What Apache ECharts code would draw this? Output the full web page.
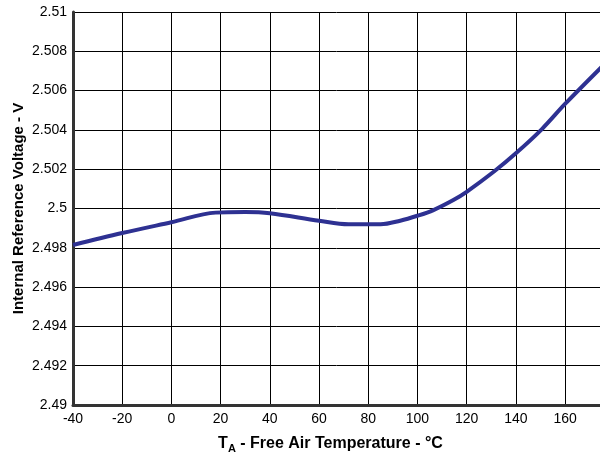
<!DOCTYPE html>
<html>
<head>
<meta charset="utf-8">
<script src="https://cdn.jsdelivr.net/npm/echarts@6/dist/echarts.min.js"></script>
<style>html,body{margin:0;padding:0;background:#fff}#c{width:600px;height:454px}</style>
</head>
<body>
<div id="c"></div>
<script>
const temps = [-40, -20, 0, 18, 30, 40, 60, 72, 85, 93, 100, 106.5, 114.6, 120, 131, 140, 150.5, 160, 175];
const volts = [2.49814, 2.49875, 2.4993, 2.49979, 2.49982, 2.49976, 2.49938, 2.4992, 2.4992, 2.49938, 2.49963, 2.49992, 2.50043, 2.50085, 2.50187, 2.50281, 2.50403, 2.50532, 2.50722];
const xTicks = [-40, -20, 0, 20, 40, 60, 80, 100, 120, 140, 160];
const yTicks = [2.49, 2.492, 2.494, 2.496, 2.498, 2.5, 2.502, 2.504, 2.506, 2.508, 2.51];

const chart = echarts.init(document.getElementById('c'));
const font = 'Liberation Sans, Arial, sans-serif';
chart.setOption({
  animation: false,
  grid: {left: 73, right: 0, top: 12, bottom: 49, outerBoundsMode: 'none', containLabel: false},
  xAxis: {
    type: 'value', min: -40, max: 174.2, interval: 20,
    name: '{t|T}{s|A}{t| - Free Air Temperature - °C}',
    nameLocation: 'middle', nameGap: 28,
    nameTextStyle: {
      padding: [0, 12, 0, 0],
      rich: {
        t: {fontFamily: font, fontWeight: 'bold', fontSize: 16, color: '#000'},
        s: {fontFamily: font, fontWeight: 'bold', fontSize: 11, color: '#000', verticalAlign: 'bottom', padding: [10, 0, 0, 0]}
      }
    },
    axisLine: {show: true, onZero: false, lineStyle: {color: '#333', width: 3}},
    axisTick: {show: false},
    axisLabel: {color: '#000', fontFamily: font, fontSize: 14, margin: 7, showMaxLabel: false,
      formatter: v => xTicks.includes(v) ? String(v) : ''},
    splitLine: {show: true, lineStyle: {color: '#000', width: 1}}
  },
  yAxis: {
    type: 'value', min: 2.49, max: 2.51, interval: 0.002,
    name: 'Internal Reference Voltage - V',
    nameLocation: 'middle', nameGap: 47, nameMoveOverlap: false,
    nameTextStyle: {fontFamily: font, fontWeight: 'bold', fontSize: 15, color: '#000'},
    axisLine: {show: true, onZero: false, lineStyle: {color: '#333', width: 3}},
    axisTick: {show: false},
    axisLabel: {color: '#000', fontFamily: font, fontSize: 14, margin: 6,
      formatter: v => { const t = yTicks.find(k => Math.abs(k - v) < 1e-9); return t === undefined ? '' : String(t); }},
    splitLine: {show: true, lineStyle: {color: '#000', width: 1}}
  },
  series: [{
    type: 'line', smooth: 0.35, symbol: 'none', clip: true,
    data: temps.map((t, i) => [t, volts[i]]),
    lineStyle: {color: '#2e3192', width: 4}
  }]
});
</script>
</body>
</html>
